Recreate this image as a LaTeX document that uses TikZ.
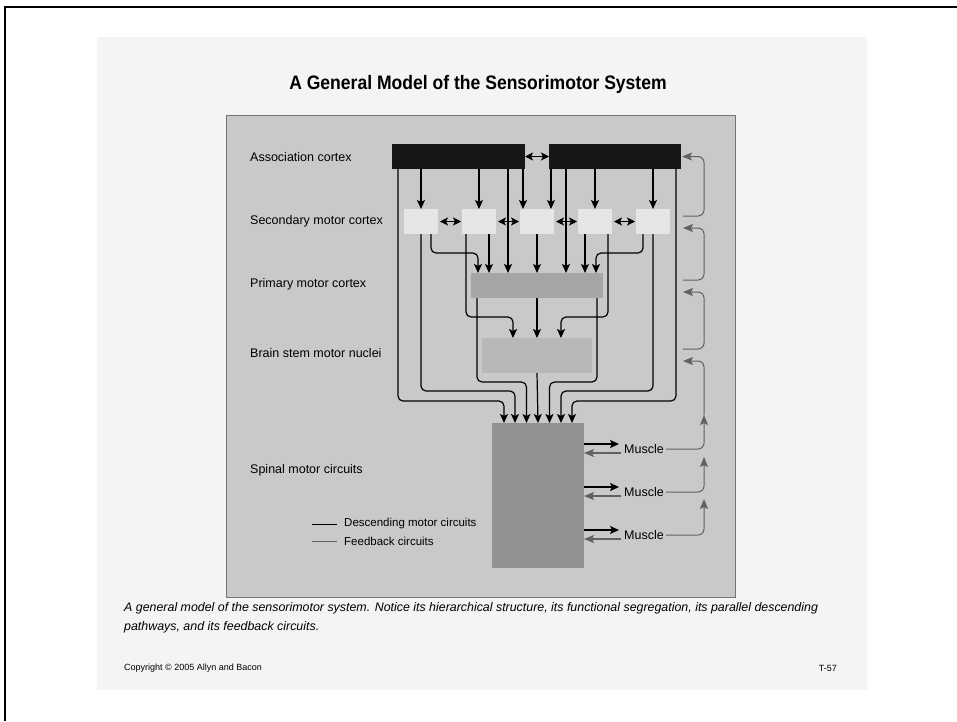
\documentclass[tikz,border=0pt]{standalone}
\usepackage{fontspec}
\setmainfont{Liberation Sans}
\usetikzlibrary{positioning,arrows.meta}

\definecolor{paper}{gray}{0.955}
\definecolor{panel}{gray}{0.79}
\definecolor{assocbox}{gray}{0.09}
\definecolor{secbox}{gray}{0.90}
\definecolor{primbox}{gray}{0.65}
\definecolor{brainbox}{gray}{0.72}
\definecolor{spinalbox}{gray}{0.57}
\definecolor{fbgray}{gray}{0.38}

\begin{document}
\begin{tikzpicture}[x=1pt, y=-1pt, >=Stealth, font=\fontsize{12.5}{14}\selectfont,
  box/.style={inner sep=0pt, outer sep=0pt, minimum height=25pt},
  assoc/.style={box, fill=assocbox, minimum width=133pt},
  secbox/.style={box, fill=secbox, minimum width=34pt},
  desc/.style={draw=black, line width=1.2pt, rounded corners=5pt, -{Stealth[length=9pt,width=8pt,inset=2pt]}},
  descline/.style={draw=black, line width=1pt},
  dbl/.style={draw=black, line width=1.2pt, {Stealth[length=8pt,width=8pt,inset=2pt]}-{Stealth[length=8pt,width=8pt,inset=2pt]}},
  fb/.style={draw=fbgray, line width=1pt, rounded corners=6pt, -{Stealth[length=10pt,width=8pt,inset=2pt]}},
  fbline/.style={draw=fbgray, line width=1pt},
  lbl/.style={anchor=west, inner sep=0pt}]
  \useasboundingbox (0,0) rectangle (957,721);
  % page frame and slide
  \draw[line width=2.4pt] (5,721) -- (5,7) -- (957,7);
  \fill[paper] (97,37) rectangle (867,690);
  \filldraw[fill=panel, draw=black!55, line width=0.7pt] (226,115) rectangle (735,597);
  \node[font=\bfseries\fontsize{19.5}{22}\selectfont] (title) at (478,84)
    {\scalebox{0.9}[1]{A General Model of the Sensorimotor System}};

  % level labels
  \node[lbl] (lblAssoc) at (250,157) {Association cortex};
  \node[lbl] (lblSec) at (250,221) {Secondary motor cortex};
  \node[lbl] (lblPrim) at (250,284) {Primary motor cortex};
  \node[lbl] (lblBrain) at (250,353) {Brain stem motor nuclei};
  \node[lbl] (lblSpinal) at (250,470) {Spinal motor circuits};

  % boxes
  \node[assoc] (assocL) at (458.5,156.5) {};
  \node[assoc, minimum width=132pt] (assocR) at (615,156.5) {};
  \foreach \i in {1,...,5}
    \node[secbox] (sec\i) at ({421+58*(\i-1)},221.5) {};
  \node[box, fill=primbox, minimum width=132pt] (prim) at (537,285.5) {};
  \node[box, fill=brainbox, minimum width=110pt, minimum height=35pt] (brain) at (537,355.5) {};
  \node[box, fill=spinalbox, minimum width=92pt, minimum height=145pt] (spinal) at (538,495.5) {};

  % association -> secondary
  \coordinate (s3a) at ([xshift=-14pt]sec3.north);
  \coordinate (s3b) at ([xshift=14pt]sec3.north);
  \draw[desc] (assocL.south -| sec1.north) -- (sec1.north);
  \draw[desc] (assocL.south -| sec2.north) -- (sec2.north);
  \draw[desc] (assocL.south -| s3a) -- (s3a);
  \draw[desc] (assocR.south -| s3b) -- (s3b);
  \draw[desc] (assocR.south -| sec4.north) -- (sec4.north);
  \draw[desc] (assocR.south -| sec5.north) -- (sec5.north);
  \draw[dbl] (assocL.east) -- (assocR.west);
  \foreach \a/\b in {sec1/sec2,sec2/sec3,sec3/sec4,sec4/sec5}
    \draw[dbl] ([xshift=2pt]\a.east) -- ([xshift=-1pt]\b.west);

  % into primary motor cortex
  \coordinate (p6) at ([xshift=-29pt]prim.north);
  \coordinate (p8) at ([xshift=29pt]prim.north);
  \draw[desc] ([xshift=10pt]sec1.south) -- ++(0,19) -| ([xshift=-59pt]prim.north);
  \draw[desc] ([xshift=10pt]sec2.south) -- ([xshift=-48pt]prim.north);
  \draw[desc] (assocL.south -| p6) -- (p6);
  \draw[desc] (sec3.south) -- (prim.north);
  \draw[desc] (assocR.south -| p8) -- (p8);
  \draw[desc] ([xshift=-10pt]sec4.south) -- ([xshift=48pt]prim.north);
  \draw[desc] ([xshift=-10pt]sec5.south) -- ++(0,19) -| ([xshift=59pt]prim.north);

  % into brain stem
  \draw[desc] ([xshift=-13pt]sec2.south) -- ++(0,83) -| ([xshift=-24pt]brain.north);
  \draw[desc] (prim.south) -- (brain.north);
  \draw[desc] ([xshift=13pt]sec4.south) -- ++(0,83) -| ([xshift=24pt]brain.north);

  % into spinal motor circuits
  \draw[desc] ([xshift=6pt]assocL.south west) -- ++(0,232) -| ([xshift=-34pt]spinal.north);
  \draw[desc] (sec1.south) -- ++(0,157) -| ([xshift=-23pt]spinal.north);
  \draw[desc] ([xshift=6pt]prim.south west) -- ++(0,84) -| ([xshift=-11.5pt]spinal.north);
  \draw[desc] (brain.south) -- (spinal.north);
  \draw[desc] ([xshift=-6pt]prim.south east) -- ++(0,84) -| ([xshift=11.5pt]spinal.north);
  \draw[desc] (sec5.south) -- ++(0,157) -| ([xshift=23pt]spinal.north);
  \draw[desc] ([xshift=-5pt]assocR.south east) -- ++(0,232) -| ([xshift=34pt]spinal.north);

  % muscles
  \foreach \i/\y in {1/449,2/492,3/535} {
    \node[lbl, inner xsep=2pt] (muscle\i) at (622,\y) {Muscle};
    \coordinate (mo\i) at ([xshift=-3pt,yshift=5pt]muscle\i.west);
    \coordinate (mi\i) at ([xshift=-1pt,yshift=-4pt]muscle\i.west);
    \draw[desc, line width=1.5pt] (spinal.east |- mo\i) -- (mo\i);
    \draw[fb, line width=1.3pt] (mi\i) -- (spinal.east |- mi\i);
  }

  % feedback circuits
  \coordinate (up1) at (704,415);
  \coordinate (up2) at (704,457);
  \coordinate (up3) at (704,499);
  \coordinate (fbSec) at (683,228);
  \coordinate (fbPrim) at (683,292);
  \coordinate (fbBrain) at (683,361);
  \coordinate (outSec) at (683,216);
  \coordinate (outPrim) at (683,280);
  \coordinate (outBrain) at (683,349);
  \draw[fb] (muscle3.east) -| (up3);
  \draw[fb] (muscle2.east) -| (up2);
  \draw[fb] (muscle1.east) -| (up1);
  \draw[fb] (up1) |- (fbBrain);
  \draw[fb] (outBrain) -- ++(21,0) |- (fbPrim);
  \draw[fb] (outPrim) -- ++(21,0) |- (fbSec);
  \draw[fb] (outSec) -- ++(21,0) |- ([xshift=1pt]assocR.east);

  % legend
  \node[lbl, font=\fontsize{11.5}{13}\selectfont] (legDesc) at (344,524) {Descending motor circuits};
  \node[lbl, font=\fontsize{11.5}{13}\selectfont] (legFb) at (344,541) {Feedback circuits};
  \draw[descline] ([xshift=-32pt]legDesc.west) -- ([xshift=-7pt]legDesc.west);
  \draw[fbline] ([xshift=-32pt]legFb.west) -- ([xshift=-7pt]legFb.west);

  % caption and footer
  \node[lbl, font=\itshape\fontsize{12.4}{14}\selectfont] (caption1) at (124,608)
    {A general model of the sensorimotor system. Notice its hierarchical structure, its functional segregation, its parallel descending};
  \node[lbl, font=\itshape\fontsize{12.4}{14}\selectfont] (caption2) at (124,627)
    {pathways, and its feedback circuits.};
  \node[lbl, font=\fontsize{9}{10}\selectfont] (copyright) at (124,668) {Copyright © 2005 Allyn and Bacon};
  \node[anchor=east, inner sep=0pt, font=\fontsize{9}{10}\selectfont] (slideno) at (837,668) {T-57};
\end{tikzpicture}
\end{document}
